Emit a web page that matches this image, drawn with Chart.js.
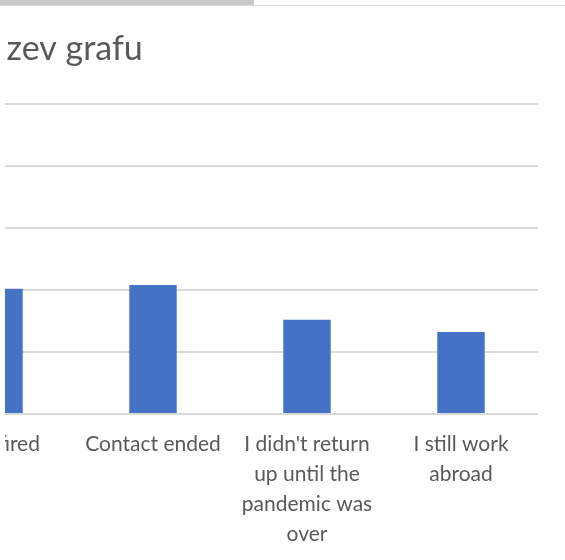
<!DOCTYPE html>
<html>
<head>
<meta charset="utf-8">
<script src="https://cdn.jsdelivr.net/npm/chart.js@4"></script>
<style>
  html, body { margin: 0; padding: 0; background: #fff; }
  body { width: 565px; height: 560px; position: relative; overflow: hidden; }
  .thumb { position: absolute; left: 0; top: 0; width: 254px; height: 5px; background: #c8c8c8; }
  .track { position: absolute; left: 0; top: 5px; width: 565px; height: 1px; background: #dadada; }
  .clip { position: absolute; left: 5px; top: 0; width: 560px; height: 560px; overflow: hidden; }
  .wrap { position: absolute; left: -436px; top: 0; width: 989px; height: 556px; }
</style>
</head>
<body>
<div class="thumb"></div>
<div class="track"></div>
<div class="clip"><div class="wrap"><canvas id="chart"></canvas></div></div>
<script>
const TITLE = 'Název grafu';
const CATEGORIES = [
  'Got fired',
  'Contact ended',
  ["I didn't return", 'up until the', 'pandemic was', 'over'],
  ['I still work', 'abroad'],
];
const VALUES = [20.2, 20.8, 15.2, 13.2];
const Y_MIN = 0, Y_MAX = 50, Y_STEP = 10;

Chart.defaults.font.family = "Lato, 'Open Sans', sans-serif";
Chart.defaults.color = '#595959';

new Chart(document.getElementById('chart'), {
  type: 'bar',
  data: {
    labels: CATEGORIES,
    datasets: [{ data: VALUES, backgroundColor: '#4472c4', categoryPercentage: 1, barPercentage: 0.308 }],
  },
  options: {
    responsive: true, maintainAspectRatio: false, animation: false,
    layout: { padding: { left: 0, right: 20, top: 0, bottom: 0 } },
    plugins: {
      legend: { display: false },
      tooltip: { enabled: false },
      title: {
        display: true, text: TITLE, color: '#595959',
        font: { size: 34, weight: 'normal' },
        padding: { top: 29, bottom: 34 },
      },
    },
    scales: {
      x: {
        grid: { display: false }, border: { display: false },
        ticks: { color: '#595959', font: { size: 21, lineHeight: '30px' }, padding: 7, maxRotation: 0, autoSkip: false },
      },
      y: {
        min: Y_MIN, max: Y_MAX,
        border: { display: false },
        grid: { color: '#d9d9d9', lineWidth: 2, drawTicks: false },
        ticks: { stepSize: Y_STEP, display: false },
        afterFit: s => { s.width = 353; },
      },
    },
  },
});
</script>
</body>
</html>
